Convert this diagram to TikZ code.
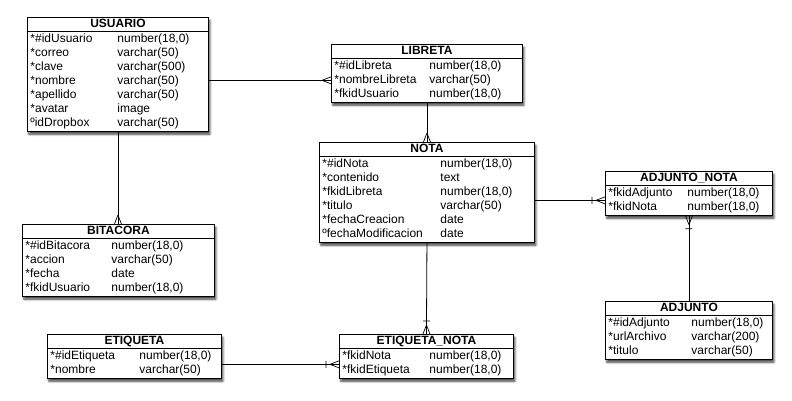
\documentclass[tikz,border=0pt]{standalone}
\usepackage{fontspec}
\setmainfont{Liberation Sans}
\usetikzlibrary{shapes.multipart, shadows.blur, decorations.markings, calc}

\newlength{\anchocol}
\newcommand{\campo}[2]{\makebox[\anchocol][l]{#1}#2}
\newcommand{\titulo}[1]{\centerline{\rule[-2.5pt]{0pt}{12pt}\bfseries #1}}

\tikzset{
  tabla/.style={rectangle split, rectangle split parts=2, draw, line width=0.9pt,
    fill=white, anchor=north west, inner xsep=3pt, inner ysep=0.5pt,
    text width=#1, font=\fontsize{12}{14}\selectfont,
    blur shadow={shadow xshift=1.5pt, shadow yshift=-3pt, shadow blur steps=8, shadow opacity=75}},
  columna/.code={\setlength{\anchocol}{#1}},
  muchos/.style={line width=0.8pt, postaction={decorate}, decoration={markings,
    mark=at position 1 with {\draw[line width=0.7pt] (-9pt,0) -- (0,3.5pt) (-9pt,0) -- (0,-3.5pt);}}},
  unomuchos/.style={line width=0.8pt, postaction={decorate}, decoration={markings,
    mark=at position 1 with {\draw[line width=0.7pt] (-9pt,0) -- (0,3.5pt) (-9pt,0) -- (0,-3.5pt)
      (-13pt,-3.5pt) -- (-13pt,3.5pt);}}}
}

\begin{document}
\begin{tikzpicture}[x=1pt, y=-1pt]
  \useasboundingbox (0,0) rectangle (792,401);

  \node[tabla=175pt, columna=87pt] (usuario) at (27,17) {\titulo{USUARIO}
    \nodepart{two}\strut\campo{*\#idUsuario}{number(18,0)}\\
    \campo{*correo}{varchar(50)}\\
    \campo{*clave}{varchar(500)}\\
    \campo{*nombre}{varchar(50)}\\
    \campo{*apellido}{varchar(50)}\\
    \campo{*avatar}{image}\\
    \campo{ºidDropbox}{varchar(50)}\strut};

  \node[tabla=185pt, columna=95pt] (libreta) at (331,44) {\titulo{LIBRETA}
    \nodepart{two}\strut\campo{*\#idLibreta}{number(18,0)}\\
    \campo{*nombreLibreta}{varchar(50)}\\
    \campo{*fkidUsuario}{number(18,0)}\strut};

  \node[tabla=209pt, columna=118pt] (nota) at (319,142) {\titulo{NOTA}
    \nodepart{two}\strut\campo{*\#idNota}{number(18,0)}\\
    \campo{*contenido}{text}\\
    \campo{*fkidLibreta}{number(18,0)}\\
    \campo{*titulo}{varchar(50)}\\
    \campo{*fechaCreacion}{date}\\
    \campo{ºfechaModificacion}{date}\strut};

  \node[tabla=161pt, columna=79pt] (adjuntonota) at (605,171) {\titulo{ADJUNTO\_NOTA}
    \nodepart{two}\strut\campo{*fkidAdjunto}{number(18,0)}\\
    \campo{*fkidNota}{number(18,0)}\strut};

  \node[tabla=161pt, columna=83pt] (adjunto) at (605,301) {\titulo{ADJUNTO}
    \nodepart{two}\strut\campo{*\#idAdjunto}{number(18,0)}\\
    \campo{*urlArchivo}{varchar(200)}\\
    \campo{*titulo}{varchar(50)}\strut};

  \node[tabla=186pt, columna=86pt] (bitacora) at (22,224) {\titulo{BITACORA}
    \nodepart{two}\strut\campo{*\#idBitacora}{number(18,0)}\\
    \campo{*accion}{varchar(50)}\\
    \campo{*fecha}{date}\\
    \campo{*fkidUsuario}{number(18,0)}\strut};

  \node[tabla=168pt, columna=89pt] (etiqueta) at (47,334) {\titulo{ETIQUETA}
    \nodepart{two}\strut\campo{*\#idEtiqueta}{number(18,0)}\\
    \campo{*nombre}{varchar(50)}\strut};

  \node[tabla=168pt, columna=87pt] (etiquetanota) at (339,334) {\titulo{ETIQUETA\_NOTA}
    \nodepart{two}\strut\campo{*fkidNota}{number(18,0)}\\
    \campo{*fkidEtiqueta}{number(18,0)}\strut};

  \coordinate (l1) at ($(libreta.west)+(0,7)$);
  \coordinate (an) at ($(adjuntonota.west)+(0,7)$);
  \coordinate (en) at ($(etiquetanota.west)+(0,8)$);

  \draw[muchos] (usuario.east |- l1) -- (l1);
  \draw[muchos] (usuario.south) -- (usuario.south |- bitacora.north);
  \draw[muchos] (libreta.south) -- (nota.north);
  \draw[unomuchos] (nota.east |- an) -- (an);
  \draw[unomuchos] (adjunto.north) -- (adjuntonota.south);
  \draw[unomuchos] (nota.south) -- (etiquetanota.north);
  \draw[unomuchos] (etiqueta.east |- en) -- (en);
\end{tikzpicture}
\end{document}
